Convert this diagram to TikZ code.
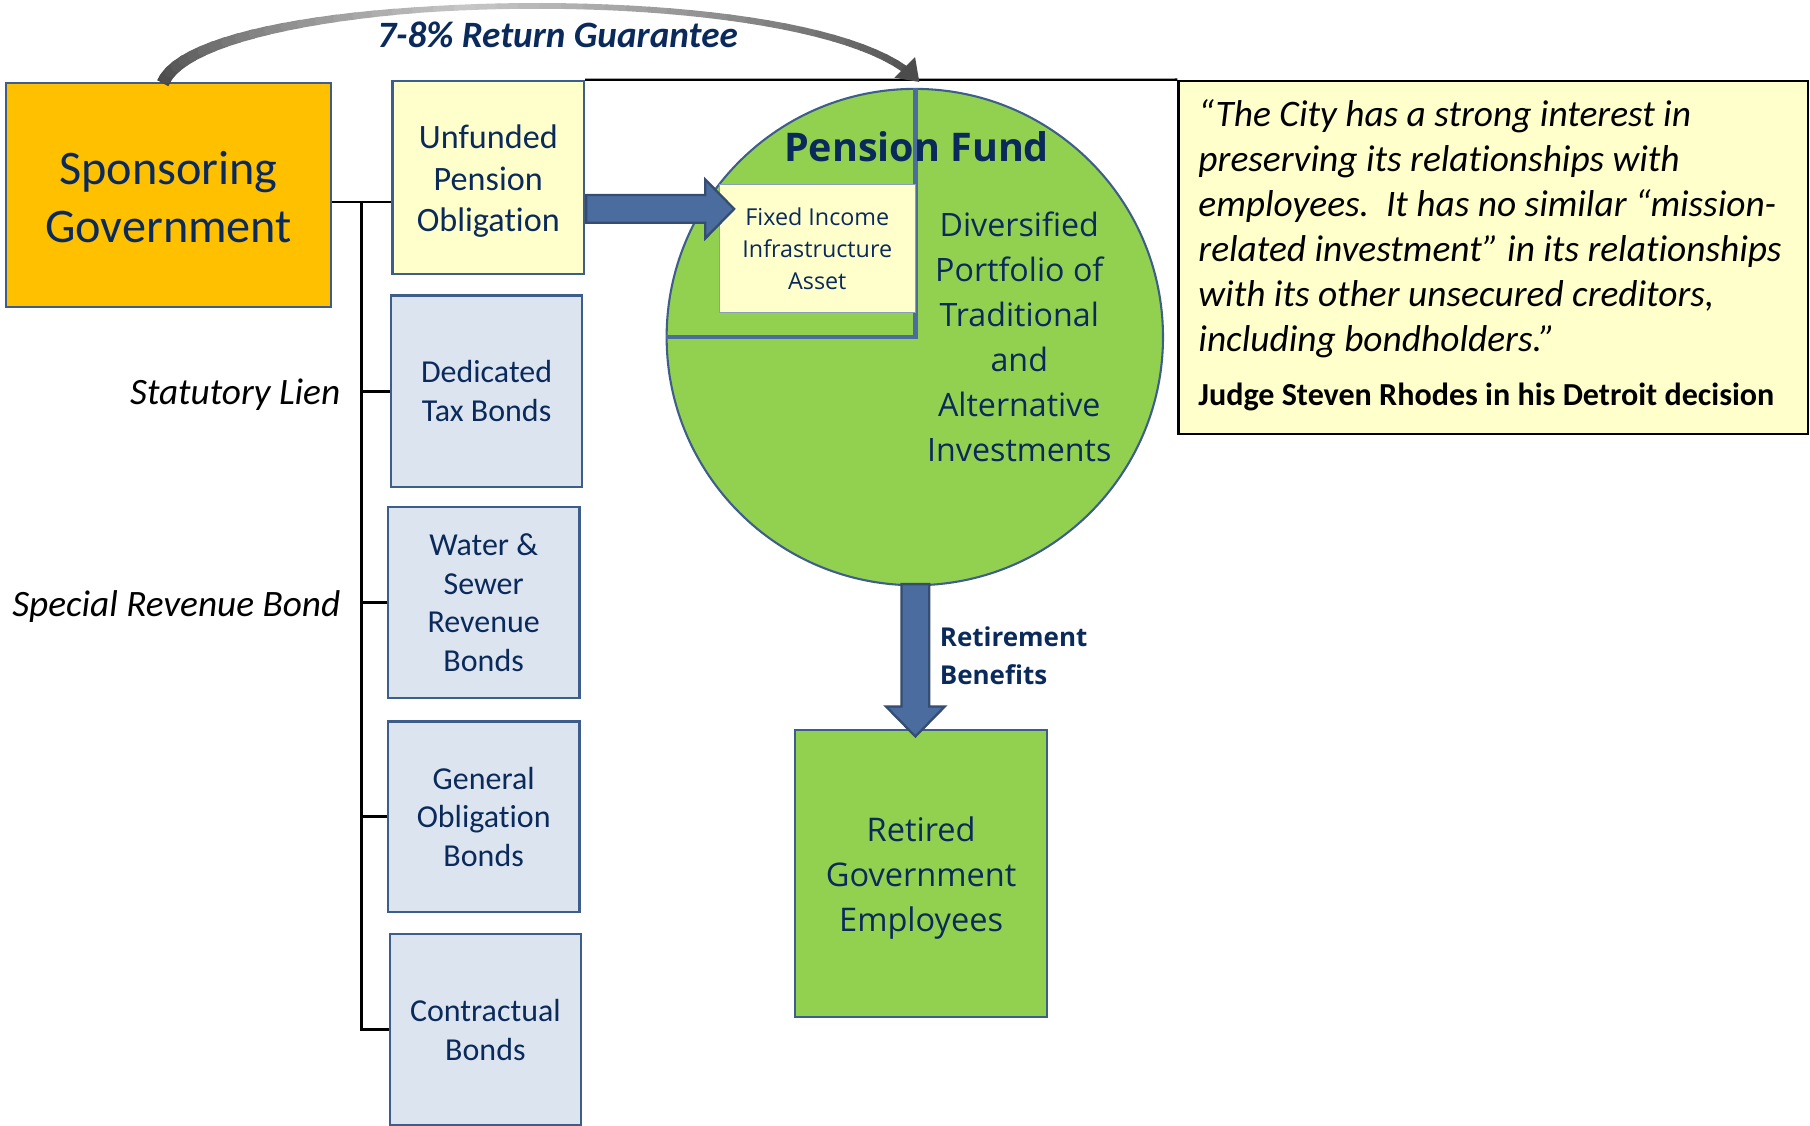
\documentclass[tikz,border=0pt]{standalone}
\usepackage{fontspec}
\setmainfont{Carlito}[Ligatures=NoCommon]
\newfontfamily\osans{Open Sans}
\usetikzlibrary{calc,arrows.meta}
\definecolor{navy}{HTML}{0B2A5C}
\definecolor{bordc}{HTML}{3D5D8A}
\definecolor{orangeF}{HTML}{FFC000}
\definecolor{yellowF}{HTML}{FFFFCC}
\definecolor{bondF}{HTML}{DCE4EF}
\definecolor{greenF}{HTML}{92D050}
\definecolor{arrowF}{HTML}{4A6C9E}
\definecolor{arrowD}{HTML}{344D70}
\tikzset{
  box/.style={draw=bordc, line width=1.8pt, inner sep=0pt, align=center, text=navy},
  bond/.style={box, fill=bondF, minimum width=166pt, minimum height=166pt,
     font=\fontsize{27.7}{33.5}\selectfont},
  tree/.style={draw=black, line width=2.4pt},
  bigarrow/.style={fill=arrowF, draw=arrowD, line width=2pt, line join=miter},
  lbl/.style={inner sep=0pt, anchor=east, font=\fontsize{32.3}{38}\selectfont\itshape},
}
\begin{document}
\begin{tikzpicture}[x=1pt,y=-1pt]
\useasboundingbox (0,0) rectangle (1568,975);

% quote box
\node[draw=black, line width=2pt, fill=yellowF, minimum width=545pt, minimum height=306pt, inner sep=0pt] (quote) at (1293.5,223) {};
\node[inner sep=0pt, anchor=north west, align=left, font=\fontsize{32.4}{39}\selectfont\itshape] (qtext) at (1038,86)
 {“The City has a strong interest in\\
  preserving its relationships with\\
  employees.\ \ It has no similar “mission-\\
  related investment” in its relationships\\
  with its other unsecured creditors,\\
  including bondholders.”};
\node[inner sep=0pt, anchor=west, font=\fontsize{27.8}{32}\selectfont\bfseries] (judge) at (1038,344)
 {Judge Steven Rhodes in his Detroit decision};

% pension fund circle
\node[circle, draw=bordc, line width=1.8pt, fill=greenF, minimum size=430pt, inner sep=0pt] (pf) at (792.5,292) {};
\coordinate (qc) at (793,292);
\draw[arrowF, line width=4pt] (pf.north -| qc) -- (qc) -- (pf.west |- qc);
\node[box, draw=bordc!60, line width=1pt, fill=yellowF, minimum width=170pt, minimum height=111pt,
  font=\osans\fontsize{20.2}{28}\selectfont] (fi) at (708,215.5) {Fixed Income\\Infrastructure\\Asset};
\node[inner sep=0pt, text=navy, font=\osans\bfseries\fontsize{34.2}{40}\selectfont] (pft) at (794,127) {Pension Fund};
\node[inner sep=0pt, text=navy, align=center, font=\osans\fontsize{27.9}{39}\selectfont] (div) at (883,292)
 {Diversified\\Portfolio of\\Traditional\\and\\Alternative\\Investments};

% left boxes
\node[box, fill=orangeF, minimum width=282pt, minimum height=194pt] (sg) at (146,169) {};
\node[inner sep=0pt, text=navy, align=center, font=\fontsize{41.8}{50}\selectfont] (sgt) at (146,171) {Sponsoring\\Government};
\node[box, fill=yellowF, minimum width=166pt, minimum height=167pt] (unf) at (423,153.5) {};
\node[inner sep=0pt, text=navy, align=center, font=\fontsize{29.6}{36}\selectfont] (unft) at (423,157) {Unfunded\\Pension\\Obligation};
\node[bond] (ded) at (421.5,339) {Dedicated\\Tax Bonds};
\node[bond] (wat) at (419,522) {Water \&\\Sewer\\Revenue\\Bonds};
\node[bond, minimum height=165pt] (go) at (419,707.5) {General\\Obligation\\Bonds};
\node[bond] (con) at (420.5,892) {Contractual\\Bonds};

\node[lbl] (sl) at (295,342) {Statutory Lien};
\node[lbl] (srb) at (295,525.5) {Special Revenue Bond};

% tree connectors
\coordinate (j0) at (313,175);
\draw[tree] (sg.east |- j0) -- (unf.west |- j0);
\draw[tree] (j0) -- (j0 |- con.west) -- (con.west);
\draw[tree] (j0 |- ded.west) -- (ded.west);
\draw[tree] (j0 |- wat.west) -- (wat.west);
\draw[tree] (j0 |- go.west) -- (go.west);

% top black line
\draw[black, line width=2pt] (unf.north east) -- (quote.north west);

% retired employees
\node[box, fill=greenF, minimum width=218pt, minimum height=249pt] (ret) at (798,756.5) {};
\node[inner sep=0pt, text=navy, align=center, font=\osans\fontsize{28.2}{39}\selectfont] (rett) at (798,761) {Retired\\Government\\Employees};

% arrow unfunded -> fixed income
\coordinate (a1s) at (unf.east |- 0,181);
\coordinate (a1t) at (636,181);
\draw[bigarrow] ($(a1s)+(1,-12)$) -- (611,169) -- (611,155.5) -- (a1t) -- (611,206.5) -- (611,193) -- ($(a1s)+(1,12)$) -- cycle;

% arrow pension fund -> retired
\coordinate (a2s) at (793,506);
\coordinate (a2t) at (793,638);
\draw[bigarrow] ($(a2s)+(-12,0)$) -- (781,612) -- (767.5,612) -- (a2t) -- (818.5,612) -- (805,612) -- ($(a2s)+(12,0)$) -- cycle;
\node[inner sep=0pt, anchor=west, align=left, text=navy, font=\osans\bfseries\fontsize{22.5}{33}\selectfont] (rb) at (814,568) {Retirement\\Benefits};

% guarantee arrow (shaded curve built from short pieces)
\coordinate (g0) at ($(sg.north)+(-5,1)$);
\coordinate (g1) at ($(pf.north)+(4,-5)$);
\path (g0) .. controls (175,-12) and (715,-22) .. (g1)
  foreach \i in {0,...,48} { coordinate[pos=\i/48] (gp\i) };
\draw[black!72, line width=11pt] (gp0) -- (gp1);
\foreach \i in {1,...,46} {
  \pgfmathtruncatemacro{\j}{\i+1}
  \pgfmathsetmacro{\tt}{\i/47}
  \pgfmathsetmacro{\dk}{\tt<0.45 ? 72-50*(\tt/0.45) : 22+48*((\tt-0.45)/0.55)}
  \pgfmathsetmacro{\lw}{11-6*min(\tt/0.4,1)+1.5*max((\tt-0.6)/0.4,0)}
  \draw[black!\dk, line width=\lw pt, line cap=round] (gp\i) -- (gp\j);
}
\draw[black!70, line width=6.5pt, -{Triangle[length=18pt, width=24pt]}] (gp47) -- (gp48);
\node[inner sep=0pt, text=navy, font=\fontsize{32.2}{38}\selectfont\bfseries\itshape] (rg) at (483,30) {7-8\% Return Guarantee};
\end{tikzpicture}
\end{document}
